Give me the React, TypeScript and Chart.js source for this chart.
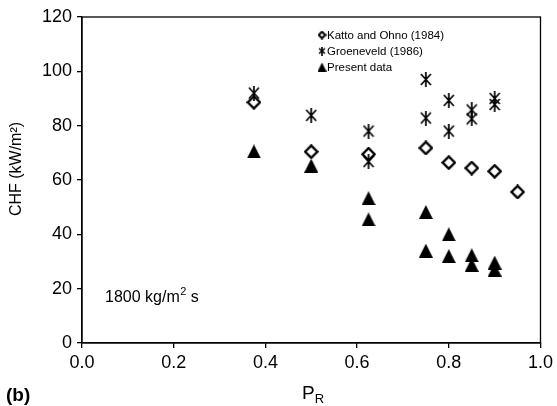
import React, { useEffect, useRef } from 'react';
import { Chart, registerables } from 'chart.js';

Chart.register(...registerables);

// ---- data ----
const kattoX = [0.375, 0.5, 0.625, 0.75, 0.8, 0.85, 0.9, 0.95];
const kattoY = [88.6, 70.4, 69.5, 71.8, 66.4, 64.4, 63.2, 55.6];

const groenX = [0.375, 0.5, 0.625, 0.625, 0.75, 0.75, 0.8, 0.8, 0.85, 0.85, 0.9, 0.9];
const groenY = [92, 83.8, 78, 66.8, 97, 82.8, 89.3, 78, 85.8, 82.5, 90, 87.8];

const presentX = [0.375, 0.5, 0.625, 0.625, 0.75, 0.75, 0.8, 0.8, 0.85, 0.85, 0.9, 0.9];
const presentY = [70.5, 65.3, 53.3, 45.5, 48.2, 34, 40, 32, 32.3, 28.8, 29.6, 27];

const seriesLabels = ['Katto and Ohno (1984)', 'Groeneveld (1986)', 'Present data'];
const xTicks = [0, 0.2, 0.4, 0.6, 0.8, 1.0];
const yTicks = [0, 20, 40, 60, 80, 100, 120];

const FONT = '"Liberation Sans", Arial, Helvetica, sans-serif';

function makeCanvas(w: number, h: number) {
  const c = document.createElement('canvas');
  c.width = w;
  c.height = h;
  return c;
}

function diamondImg(s: number, lw: number) {
  const c = makeCanvas(s, s);
  const g = c.getContext('2d')!;
  const m = s / 2;
  const r = m - lw / 2 - 0.2;
  g.strokeStyle = '#000';
  g.lineWidth = lw;
  g.lineJoin = 'miter';
  g.beginPath();
  g.moveTo(m, m - r);
  g.lineTo(m + r, m);
  g.lineTo(m, m + r);
  g.lineTo(m - r, m);
  g.closePath();
  g.stroke();
  return c;
}

function asteriskImg(w: number, h: number, lw: number) {
  const c = makeCanvas(w, h);
  const g = c.getContext('2d')!;
  g.strokeStyle = '#000';
  g.lineWidth = lw;
  const cx = w / 2;
  const cy = h / 2;
  const ax = w / 2 - 1;
  const ay = h / 2 - 2;
  g.beginPath();
  g.moveTo(cx - ax, cy - ay);
  g.lineTo(cx + ax, cy + ay);
  g.moveTo(cx + ax, cy - ay);
  g.lineTo(cx - ax, cy + ay);
  g.moveTo(cx, 0);
  g.lineTo(cx, h);
  g.stroke();
  return c;
}

function triangleImg(w: number, h: number) {
  const c = makeCanvas(w, h);
  const g = c.getContext('2d')!;
  g.fillStyle = '#000';
  g.beginPath();
  g.moveTo(w / 2, 0);
  g.lineTo(w, h);
  g.lineTo(0, h);
  g.closePath();
  g.fill();
  return c;
}

export default function App() {
  const ref = useRef<HTMLCanvasElement | null>(null);

  useEffect(() => {
    if (!ref.current) return;
    const dia = diamondImg(15, 2.4);
    const ast = asteriskImg(12, 15, 1.7);
    const tri = triangleImg(14, 14);
    const diaS = diamondImg(9, 2);
    const astS = asteriskImg(8, 9, 1.6);
    const triS = triangleImg(9, 9);

    const overlay = {
      id: 'overlay',
      afterDraw(chart: any) {
        const ctx = chart.ctx;
        const a = chart.chartArea;
        ctx.save();
        // frame
        ctx.strokeStyle = '#000';
        ctx.lineWidth = 1.3;
        ctx.strokeRect(a.left, a.top, a.right - a.left, a.bottom - a.top);

        ctx.fillStyle = '#000';
        // legend
        ctx.font = `11.5px ${FONT}`;
        ctx.textBaseline = 'middle';
        ctx.textAlign = 'left';
        const lx = 322;
        const rows = [35, 51, 67];
        const imgs = [diaS, astS, triS];
        rows.forEach((ry, i) => {
          const im = imgs[i];
          ctx.drawImage(im, lx - im.width / 2, ry - im.height / 2);
          ctx.fillText(seriesLabels[i], 327, ry + 0.5);
        });

        // annotation
        ctx.font = `16px ${FONT}`;
        ctx.textBaseline = 'alphabetic';
        let x = 105;
        const by = 302;
        const t1 = '1800 kg/m';
        ctx.fillText(t1, x, by);
        x += ctx.measureText(t1).width + 0.5;
        ctx.font = `11px ${FONT}`;
        ctx.fillText('2', x, by - 7);
        x += ctx.measureText('2').width;
        ctx.font = `16px ${FONT}`;
        ctx.fillText(' s', x, by);

        // x title
        ctx.font = `19px ${FONT}`;
        const px = 302;
        const pby = 399;
        ctx.fillText('P', px, pby);
        const pw = ctx.measureText('P').width;
        ctx.font = `13px ${FONT}`;
        ctx.fillText('R', px + pw, pby + 4);

        // (b)
        ctx.font = `bold 19px ${FONT}`;
        ctx.fillText('(b)', 6, 401);

        // y title
        ctx.translate(17, 169);
        ctx.rotate(-Math.PI / 2);
        ctx.font = `16px ${FONT}`;
        ctx.textAlign = 'center';
        ctx.textBaseline = 'middle';
        ctx.fillText('CHF (kW/m\u00B2)', 0, 0);
        ctx.restore();
      },
    };

    const chart = new Chart(ref.current, {
      type: 'scatter',
      data: {
        datasets: [
          {
            label: seriesLabels[0],
            data: kattoX.map((v, i) => ({ x: v, y: kattoY[i] })),
            pointStyle: dia as any,
            pointRadius: 7,
            borderColor: '#000',
            backgroundColor: '#000',
          },
          {
            label: seriesLabels[1],
            data: groenX.map((v, i) => ({ x: v, y: groenY[i] })),
            pointStyle: ast as any,
            pointRadius: 7,
            borderColor: '#000',
            backgroundColor: '#000',
          },
          {
            label: seriesLabels[2],
            data: presentX.map((v, i) => ({ x: v, y: presentY[i] })),
            pointStyle: tri as any,
            pointRadius: 7,
            borderColor: '#000',
            backgroundColor: '#000',
          },
        ],
      },
      options: {
        animation: false,
        responsive: false,
        events: [],
        layout: { padding: { top: 17, right: 14, left: 0, bottom: 0 } },
        plugins: { legend: { display: false }, tooltip: { enabled: false } },
        scales: {
          x: {
            type: 'linear',
            min: 0,
            max: 1,
            afterFit: (s: any) => {
              s.height = 63;
            },
            afterBuildTicks: (s: any) => {
              s.ticks = xTicks.map((v) => ({ value: v }));
            },
            grid: { drawOnChartArea: false, drawTicks: true, tickLength: 5, color: '#000', lineWidth: 1.3 },
            border: { display: true, color: '#000', width: 1.3 },
            ticks: {
              color: '#000',
              font: { family: FONT, size: 18 },
              padding: 4,
              maxRotation: 0,
              callback: (v: any) => Number(v).toFixed(1),
            },
          },
          y: {
            type: 'linear',
            min: 0,
            max: 120,
            afterFit: (s: any) => {
              s.width = 82;
            },
            afterBuildTicks: (s: any) => {
              s.ticks = yTicks.map((v) => ({ value: v }));
            },
            grid: { drawOnChartArea: false, drawTicks: true, tickLength: 5, color: '#000', lineWidth: 1.3 },
            border: { display: true, color: '#000', width: 1.3 },
            ticks: {
              color: '#000',
              font: { family: FONT, size: 18 },
              padding: 5,
              callback: (v: any) => String(v),
            },
          },
        },
      },
      plugins: [overlay],
    });
    return () => chart.destroy();
  }, []);

  return (
    <div style={{ position: 'absolute', left: 0, top: 0, width: 557, height: 406, background: '#fff' }}>
      <canvas ref={ref} width={557} height={406} style={{ display: 'block' }} />
    </div>
  );
}
